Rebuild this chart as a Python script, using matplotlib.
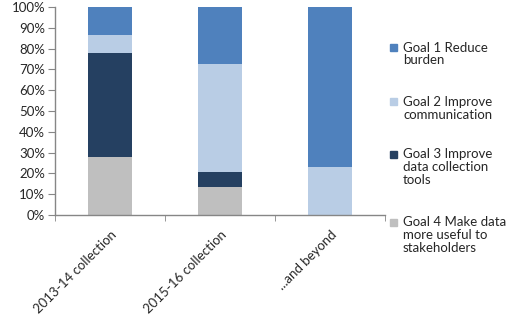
import matplotlib
matplotlib.use('Agg')
import matplotlib.pyplot as plt
import matplotlib.transforms as mtransforms
import numpy as np
from matplotlib.patches import Rectangle
from matplotlib.ticker import FixedLocator, PercentFormatter

plt.rcParams['font.family'] = ['Lato', 'DejaVu Sans']

categories = ['2013-14 collection', '2015-16 collection', '...and beyond']
goal_labels = ['Goal 1 Reduce\nburden',
               'Goal 2 Improve\ncommunication',
               'Goal 3 Improve\ndata collection\ntools',
               'Goal 4 Make data\nmore useful to\nstakeholders']
goal1 = [13.5, 27.5, 77]
goal2 = [8.5, 52, 23]
goal3 = [50, 7, 0]
goal4 = [28, 13.5, 0]
colors = ['#4F81BD', '#B9CDE5', '#254061', '#BFBFBF']

fig = plt.figure(figsize=(5.31, 3.29), dpi=100)
ax = fig.add_axes([55/531, 1 - 215/329, 330/531, 208/329])

x = np.arange(len(categories))
bottom = np.zeros(len(categories))
# stack from the bottom: goal 4 first
for vals, col in zip([goal4, goal3, goal2, goal1], colors[::-1]):
    ax.bar(x, vals, 0.4, bottom=bottom, color=col, linewidth=0)
    bottom += np.array(vals)

ax.set_xlim(-0.5, 2.5)
ax.set_ylim(0, 100)
ax.set_yticks(np.arange(0, 101, 10))
ax.yaxis.set_major_formatter(PercentFormatter(decimals=0))

ax.set_xticks(x)
ax.set_xticklabels(categories, rotation=45, ha='right', rotation_mode='anchor')
shift = mtransforms.ScaledTranslation(-4/100, 0, fig.dpi_scale_trans)
for lbl in ax.get_xticklabels():
    lbl.set_transform(lbl.get_transform() + shift)
ax.xaxis.set_minor_locator(FixedLocator([-0.5, 0.5, 1.5, 2.5]))
ax.tick_params(axis='x', which='major', length=0, pad=10)
ax.tick_params(axis='x', which='minor', length=4, color='#868686')
ax.tick_params(axis='y', length=5, color='#868686', pad=2)
ax.tick_params(labelsize=9.5, labelcolor='#262626')

for s in ['top', 'right']:
    ax.spines[s].set_visible(False)
for s in ['left', 'bottom']:
    ax.spines[s].set_color('#868686')
    ax.spines[s].set_linewidth(1)

# legend on the right
W, H = 531, 329
legend_y = [51.5, 106, 158, 226.5]
for lab, col, yb in zip(goal_labels, colors, legend_y):
    fig.patches.append(Rectangle((390/W, 1 - (yb - 0.5)/H), 6.5/W, 7/H,
                                 transform=fig.transFigure, color=col))
    fig.text(403/W, 1 - (yb - 10)/H, lab, fontsize=9.5, color='#262626',
             va='top', ha='left', linespacing=1.08)

fig.savefig('out.png', dpi=100)
